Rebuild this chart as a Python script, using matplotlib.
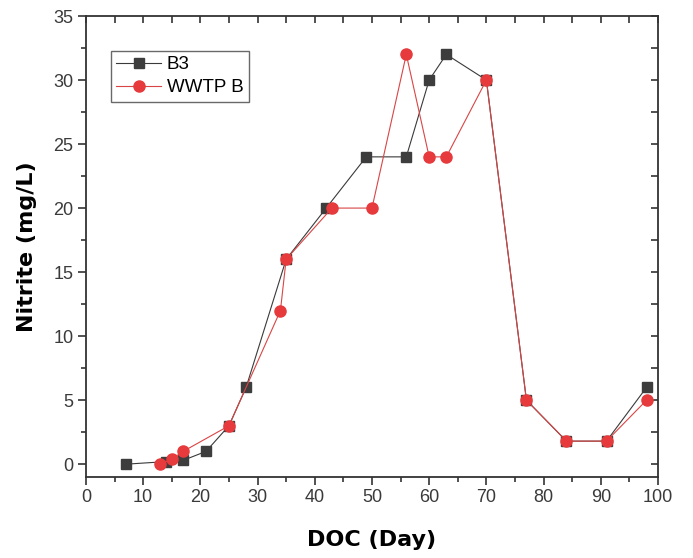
import matplotlib
matplotlib.use("Agg")
import matplotlib.pyplot as plt
from matplotlib.ticker import MultipleLocator

# B3 reactor
b3_day = [7, 14, 17, 21, 25, 28, 35, 42, 49, 56, 60, 63, 70, 77, 84, 91, 98]
b3_nitrite = [0, 0.2, 0.3, 1, 3, 6, 16, 20, 24, 24, 30, 32, 30, 5, 1.8, 1.8, 6]

# WWTP B inoculum
wwtp_day = [13, 15, 17, 25, 34, 35, 43, 50, 56, 60, 63, 70, 77, 84, 91, 98]
wwtp_nitrite = [0, 0.4, 1, 3, 12, 16, 20, 20, 32, 24, 24, 30, 5, 1.8, 1.8, 5]

plt.rcParams['font.family'] = ['Liberation Sans', 'DejaVu Sans']

fig = plt.figure(figsize=(6.93, 5.58), dpi=100)
ax = fig.add_axes([0.124, 0.1452, 0.8255, 0.8261])

ax.plot(b3_day, b3_nitrite, color='#3a3a3a', lw=0.8, marker='s', ms=7.3,
        mfc='#3d3d3d', mec='#3d3d3d', label='B3', zorder=2)
ax.plot(wwtp_day, wwtp_nitrite, color='#d94545', lw=0.8, marker='o', ms=8,
        mfc='#e63a3c', mec='#e63a3c', label='WWTP B', zorder=3)

ax.set_xlim(0, 100)
ax.set_ylim(-1, 35)
ax.xaxis.set_major_locator(MultipleLocator(10))
ax.xaxis.set_minor_locator(MultipleLocator(5))
ax.yaxis.set_major_locator(MultipleLocator(5))
ax.yaxis.set_minor_locator(MultipleLocator(2.5))

spine_col = '#333333'
for s in ax.spines.values():
    s.set_color(spine_col)
    s.set_linewidth(1.3)

ax.tick_params(which='both', direction='out', color=spine_col, width=1.2,
               labelsize=13, labelcolor='#3a3a3a', pad=3)
ax.tick_params(which='major', length=6)
ax.tick_params(which='minor', length=3.5)

# mirrored ticks on top and right, pointing inward
top = ax.secondary_xaxis('top')
top.xaxis.set_major_locator(MultipleLocator(10))
top.xaxis.set_minor_locator(MultipleLocator(5))
top.tick_params(which='both', direction='in', color=spine_col, width=1.2,
                labeltop=False, length=5)
top.spines['top'].set_visible(False)

right = ax.secondary_yaxis('right')
right.yaxis.set_major_locator(MultipleLocator(5))
right.yaxis.set_minor_locator(MultipleLocator(2.5))
right.tick_params(which='both', direction='in', color=spine_col, width=1.2,
                  labelright=False, length=5)
right.spines['right'].set_visible(False)

ax.set_xlabel('DOC (Day)', family='DejaVu Sans', fontweight='bold',
              fontsize=16, labelpad=17)
ax.set_ylabel('Nitrite (mg/L)', family='DejaVu Sans', fontweight='bold',
              fontsize=16, labelpad=12)

leg = ax.legend(loc='upper left', bbox_to_anchor=(0.043, 0.925), fontsize=13.5,
                frameon=True, fancybox=False, borderpad=0.3, handlelength=2.4,
                handletextpad=0.3, labelspacing=0.3, borderaxespad=0)
leg.get_frame().set_edgecolor('#444444')
leg.get_frame().set_linewidth(1.0)

fig.savefig('out.png', dpi=100)
